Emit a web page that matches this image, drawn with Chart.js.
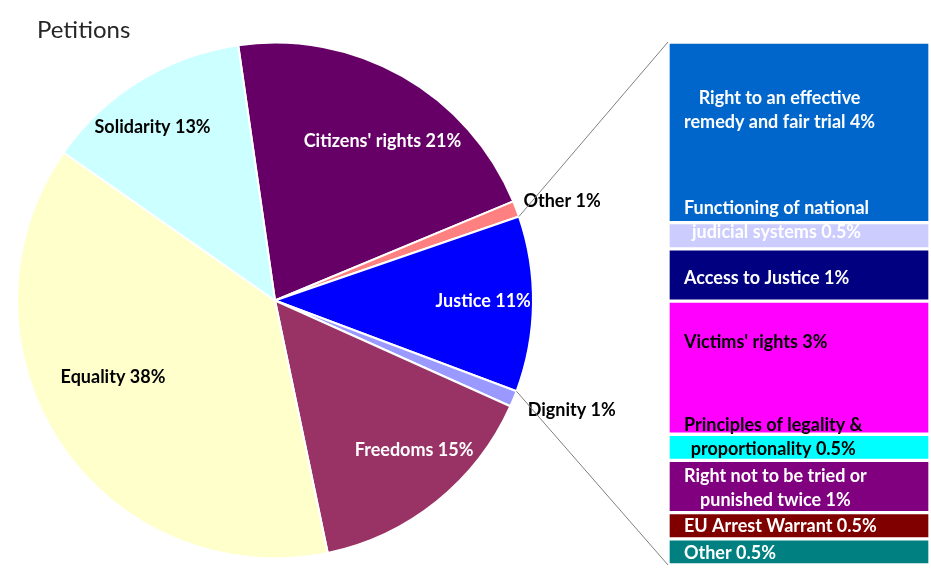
<!DOCTYPE html>
<html>
<head>
<meta charset="utf-8">
<script src="https://cdn.jsdelivr.net/npm/chart.js@4.4.1/dist/chart.umd.min.js"></script>
<style>
  body { margin: 0; background: #fff; }
  #wrap { position: relative; width: 931px; height: 575px; }
  #wrap canvas { position: absolute; left: 0; top: 0; }
  #title { position: absolute; left: 37px; top: 14px; font: 24px Lato, sans-serif; color: #262626; }
</style>
</head>
<body>
<div id="wrap">
  <canvas id="pieChart" width="931" height="575"></canvas>
  <canvas id="barChart" width="931" height="575"></canvas>
  <div id="title">Petitions</div>
</div>
<script>
// Pie: share of petitions by chapter
const pieCategories = ["Citizens' rights", 'Other', 'Justice', 'Dignity', 'Freedoms', 'Equality', 'Solidarity'];
const pieValues = [21, 1, 11, 1, 15, 38, 13];
const pieColors = ['#660066', '#ff8080', '#0000ff', '#9999ff', '#993366', '#ffffcc', '#ccffff'];
const pieTextColors = ['#fff', '#000', '#fff', '#000', '#fff', '#000', '#000'];

// Bar: breakdown of the Justice slice
const justiceCategories = [
    ['Right to an effective', 'remedy and fair trial 4%'],
    ['Functioning of national', 'judicial systems 0.5%'],
    ['Access to Justice 1%'],
    ["Victims' rights 3%"],
    ['Principles of legality &', 'proportionality 0.5%'],
    ['Right not to be tried or', 'punished twice 1%'],
    ['EU Arrest Warrant 0.5%'],
    ['Other 0.5%']
];
const justiceValues = [3.8, 0.55, 1.1, 2.8, 0.55, 1.1, 0.55, 0.55];
const justiceColors = ['#0066cc', '#ccccff', '#000080', '#ff00ff', '#00ffff', '#800080', '#800000', '#008080'];
const justiceTextColors = ['#fff', '#fff', '#fff', '#000', '#000', '#fff', '#fff', '#fff'];

const justiceIndex = pieCategories.indexOf('Justice');
const justiceTotal = justiceValues.reduce((a, b) => a + b, 0);

// small hand nudges so the labels sit where Excel put them
const pieNudge = [[8, 16], [0, -5], [7, -2], [7, 8], [13, -7], [6, -34], [-17, -2]];
const barShift = [-22, -16, 3, -25, -10, 2, 0, 1];

const pieLabelPlugin = {
    id: 'pieLabels',
    afterDatasetsDraw(chart) {
        const ctx = chart.ctx;
        const arcs = chart.getDatasetMeta(0).data;
        ctx.save();
        ctx.font = 'bold 18px Lato, sans-serif';
        ctx.textBaseline = 'middle';
        arcs.forEach((arc, i) => {
            const outside = pieValues[i] < 2;
            const mid = (arc.startAngle + arc.endAngle) / 2;
            const r = arc.outerRadius * (outside ? 1.03 : 0.78);
            const x = arc.x + Math.cos(mid) * r + pieNudge[i][0];
            const y = arc.y + Math.sin(mid) * r + pieNudge[i][1];
            ctx.textAlign = outside ? 'left' : 'center';
            ctx.fillStyle = pieTextColors[i];
            ctx.fillText(pieCategories[i] + ' ' + pieValues[i] + '%', x, y);
        });
        ctx.restore();
    }
};

const pieChart = new Chart(document.getElementById('pieChart'), {
    type: 'pie',
    data: {
        labels: pieCategories,
        datasets: [{
            data: pieValues,
            backgroundColor: pieColors,
            borderColor: '#fff',
            borderWidth: 2
        }]
    },
    options: {
        responsive: false,
        animation: false,
        rotation: -8.2,
        layout: { padding: { top: 41, bottom: 15, left: 16, right: 397 } },
        plugins: { legend: { display: false }, tooltip: { enabled: false } }
    },
    plugins: [pieLabelPlugin]
});

const barLabelPlugin = {
    id: 'barLabels',
    afterDatasetsDraw(chart) {
        const ctx = chart.ctx;
        ctx.save();
        ctx.font = 'bold 18px Lato, sans-serif';
        ctx.textBaseline = 'middle';
        ctx.textAlign = 'center';
        chart.data.datasets.forEach((ds, i) => {
            const bar = chart.getDatasetMeta(i).data[0];
            const top = Math.min(bar.y, bar.base);
            const bottom = Math.max(bar.y, bar.base);
            const left = bar.x - bar.width / 2;
            const lines = justiceCategories[i];
            const blockW = Math.max(...lines.map(l => ctx.measureText(l).width));
            const cx = left + 16 + blockW / 2;
            const lh = 24;
            const cy = (top + bottom) / 2 + barShift[i] - (lines.length - 1) * lh / 2;
            ctx.fillStyle = justiceTextColors[i];
            lines.forEach((l, k) => ctx.fillText(l, cx, cy + k * lh));
        });
        ctx.restore();
    }
};

// the two grey lines joining the Justice slice to the bar
const connectorPlugin = {
    id: 'connector',
    afterDraw(chart) {
        const arc = pieChart.getDatasetMeta(0).data[justiceIndex];
        const first = chart.getDatasetMeta(0).data[0];
        const last = chart.getDatasetMeta(chart.data.datasets.length - 1).data[0];
        const barLeft = first.x - first.width / 2;
        const barTop = Math.min(first.y, first.base);
        const barBottom = Math.max(last.y, last.base);
        const ctx = chart.ctx;
        ctx.save();
        ctx.strokeStyle = '#7f7f7f';
        ctx.lineWidth = 1;
        ctx.beginPath();
        ctx.moveTo(arc.x + Math.cos(arc.startAngle) * arc.outerRadius, arc.y + Math.sin(arc.startAngle) * arc.outerRadius);
        ctx.lineTo(barLeft, barTop);
        ctx.moveTo(arc.x + Math.cos(arc.endAngle) * arc.outerRadius, arc.y + Math.sin(arc.endAngle) * arc.outerRadius);
        ctx.lineTo(barLeft, barBottom);
        ctx.stroke();
        ctx.restore();
    }
};

new Chart(document.getElementById('barChart'), {
    type: 'bar',
    data: {
        labels: ['Justice'],
        datasets: justiceCategories.map((name, i) => ({
            label: name.join(' '),
            data: [justiceValues[i]],
            backgroundColor: justiceColors[i],
            borderColor: '#fff',
            borderWidth: 2,
            borderSkipped: false,
            barPercentage: 1,
            categoryPercentage: 1
        }))
    },
    options: {
        responsive: false,
        animation: false,
        layout: { padding: { left: 668, right: 1, top: 42, bottom: 10 } },
        plugins: { legend: { display: false }, tooltip: { enabled: false } },
        scales: {
            x: { stacked: true, display: false },
            y: { stacked: true, display: false, min: 0, max: justiceTotal, reverse: true }
        }
    },
    plugins: [barLabelPlugin, connectorPlugin]
});
</script>
</body>
</html>
